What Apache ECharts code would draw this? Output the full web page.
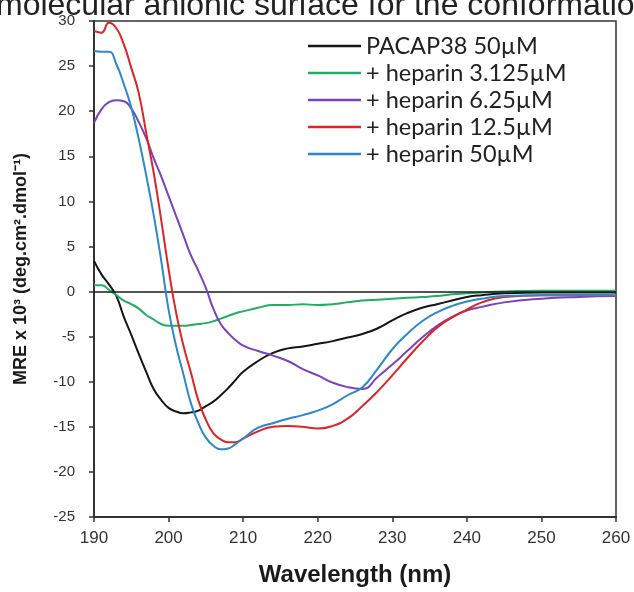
<!DOCTYPE html>
<html>
<head>
<meta charset="utf-8">
<script src="https://cdn.jsdelivr.net/npm/echarts@6/dist/echarts.min.js"></script>
<style>
html,body{margin:0;padding:0;background:#fff;}
#chart{width:634px;height:592px;}
</style>
</head>
<body>
<div id="chart"></div>
<script>
// Wavelength (nm)
var wavelengths = [190,191,192,193,194,195,196,197,198,199,200,201,202,203,204,205,206,207,208,209,210,212,214,216,218,220,222,224,226,228,230,232,234,236,238,240,242,245,250,255,260];

var seriesNames = ['PACAP38 50µM', '+ heparin 3.125µM', '+ heparin 6.25µM', '+ heparin 12.5µM', '+ heparin 50µM'];

// MRE x 10^3 values
var pacap = [3.4,1.9,0.8,-0.5,-2.8,-4.8,-6.9,-8.9,-10.8,-12.0,-12.9,-13.3,-13.5,-13.4,-13.2,-12.7,-12.2,-11.5,-10.7,-9.8,-8.9,-7.7,-6.8,-6.3,-6.1,-5.8,-5.5,-5.1,-4.7,-4.1,-3.2,-2.4,-1.8,-1.4,-1.0,-0.6,-0.4,-0.2,-0.1,-0.1,-0.1];
var hep3125 = [0.7,0.7,0.2,-0.4,-1.0,-1.4,-1.9,-2.6,-3.1,-3.6,-3.8,-3.8,-3.8,-3.7,-3.6,-3.5,-3.3,-3.0,-2.7,-2.4,-2.2,-1.8,-1.5,-1.5,-1.4,-1.5,-1.4,-1.2,-1.0,-0.9,-0.8,-0.7,-0.6,-0.5,-0.3,-0.2,-0.1,0.0,0.1,0.1,0.1];
var hep625 = [18.7,20.2,21.0,21.2,21.1,20.3,18.8,17.0,14.8,12.8,10.6,8.4,6.2,4.0,2.3,0.4,-1.9,-3.6,-4.6,-5.4,-6.0,-6.6,-7.1,-7.7,-8.6,-9.3,-10.1,-10.6,-10.8,-9.5,-8.1,-6.6,-5.1,-3.8,-2.8,-2.1,-1.7,-1.2,-0.8,-0.6,-0.5];
var hep125 = [28.9,28.7,29.8,29.2,27.4,24.8,22.0,17.6,13.2,8.0,2.5,-2.3,-6.0,-9.0,-12.1,-14.2,-15.7,-16.4,-16.7,-16.7,-16.3,-15.5,-15.0,-14.9,-15.0,-15.2,-14.9,-14.1,-12.7,-11.1,-9.3,-7.4,-5.6,-4.0,-2.9,-2.0,-1.2,-0.6,-0.4,-0.4,-0.4];
var hep50 = [26.7,26.6,26.6,25.2,23.0,20.4,16.9,12.9,8.5,3.5,-2.0,-6.0,-9.2,-12.4,-14.6,-16.2,-17.1,-17.5,-17.4,-16.9,-16.3,-15.1,-14.6,-14.1,-13.7,-13.2,-12.5,-11.5,-10.6,-8.6,-6.4,-4.7,-3.3,-2.3,-1.6,-1.1,-0.8,-0.5,-0.4,-0.4,-0.4];

var seriesValues = [pacap, hep3125, hep625, hep125, hep50];
var seriesColors = ['#151515', '#22ad62', '#7c42bb', '#dd2426', '#2d87cc'];

var xTicks = {min: 190, max: 260, interval: 10};
var yTicks = {min: -25, max: 30, interval: 5};

function pairs(vals) {
  return wavelengths.map(function (w, i) { return [w, vals[i]]; });
}

var series = seriesNames.map(function (name, i) {
  return {
    name: name,
    type: 'line',
    data: pairs(seriesValues[i]),
    showSymbol: false,
    symbol: 'none',
    smooth: 0.5,
    lineStyle: {color: seriesColors[i], width: 2},
    itemStyle: {color: seriesColors[i]},
    z: 3 + i
  };
});
series[0].markLine = {
  silent: true,
  symbol: ['none', 'none'],
  label: {show: false},
  lineStyle: {color: '#1a1a1a', width: 1.6, type: 'solid'},
  data: [{yAxis: 0}]
};

var chart = echarts.init(document.getElementById('chart'), null, {renderer: 'canvas'});
chart.setOption({
  animation: false,
  backgroundColor: '#ffffff',
  graphic: [{
    type: 'text',
    left: -4,
    top: -10,
    style: {
      text: 'molecular anionic surface for the conformatio',
      font: '32px "Liberation Sans", Arial, sans-serif',
      fill: '#222'
    },
    z: 0
  }],
  grid: {
    left: 94, right: 18, top: 21, bottom: 72,
    show: true, borderColor: '#333', borderWidth: 1.5, backgroundColor: 'transparent'
  },
  legend: {
    orient: 'vertical',
    left: 303,
    top: 29,
    icon: 'rect',
    itemWidth: 53,
    itemHeight: 2.5,
    itemGap: 3,
    data: seriesNames,
    textStyle: {fontFamily: 'Lato', fontSize: 23.5, lineHeight: 23.5, color: '#222'}
  },
  xAxis: {
    type: 'value',
    min: xTicks.min, max: xTicks.max, interval: xTicks.interval,
    name: 'Wavelength (nm)',
    nameLocation: 'middle',
    nameGap: 46,
    nameTextStyle: {fontFamily: 'Liberation Sans', fontWeight: 'bold', fontSize: 24, color: '#1a1a1a'},
    axisLine: {show: true, onZero: false, lineStyle: {color: '#333', width: 2}},
    axisTick: {show: true, length: 5, lineStyle: {color: '#333', width: 1.5}},
    axisLabel: {fontFamily: 'Liberation Sans', fontSize: 17, color: '#333', margin: 13},
    splitLine: {show: false}
  },
  yAxis: {
    type: 'value',
    min: yTicks.min, max: yTicks.max, interval: yTicks.interval,
    name: 'MRE x 10³ (deg.cm².dmol⁻¹)',
    nameLocation: 'middle',
    nameGap: 64,
    nameTextStyle: {fontFamily: 'Liberation Sans', fontWeight: 'bold', fontSize: 18, color: '#1a1a1a'},
    axisLine: {show: true, onZero: false, lineStyle: {color: '#333', width: 2}},
    axisTick: {show: true, length: 5, lineStyle: {color: '#333', width: 1.5}},
    axisLabel: {fontFamily: 'Liberation Sans', fontSize: 15, color: '#333', margin: 19},
    splitLine: {show: false}
  },
  series: series
});
</script>
</body>
</html>
